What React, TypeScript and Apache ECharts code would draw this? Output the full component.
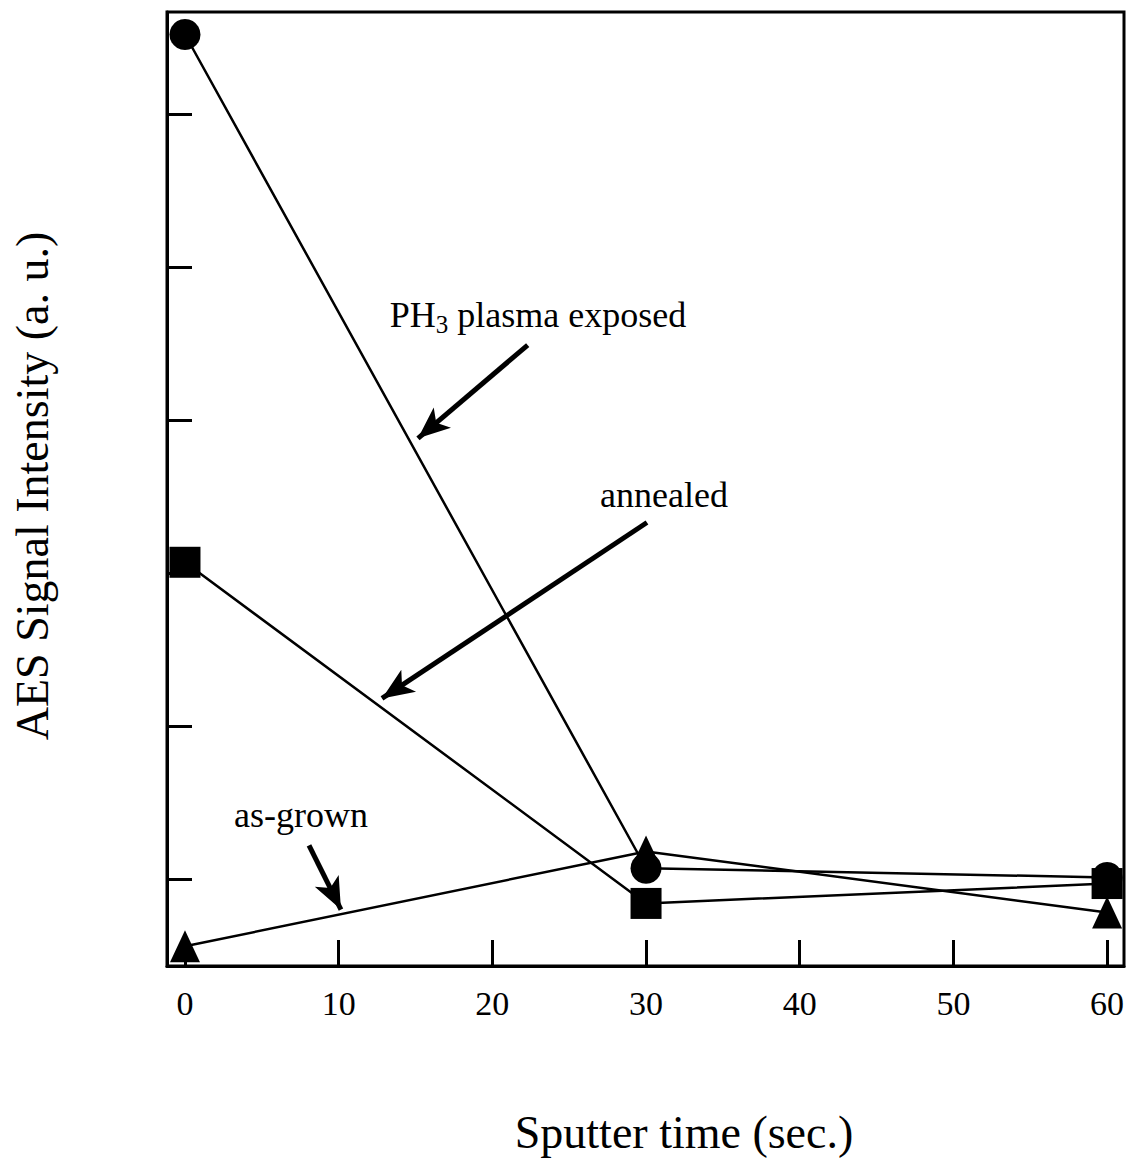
import React, { useEffect, useRef } from "react";
import * as echarts from "echarts";

const times = [0, 30, 60];
const ph3Exposed = [6.52, 1.07, 1.01];
const annealed = [3.07, 0.84, 0.97];
const asGrown = [0.56, 1.18, 0.78];
const xTickValues = [0, 10, 20, 30, 40, 50, 60];
const yTickValues = [1, 2, 3, 4, 5, 6];

const ph3Arrow = [[22.3, 4.49], [15.16, 3.88]];
const annealedArrow = [[30.06, 3.33], [12.82, 2.18]];
const asGrownArrow = [[8.07, 1.22], [10.15, 0.8]];

const FONT = "'Liberation Serif', 'Times New Roman', serif";

export default function App() {
  const ref = useRef<HTMLDivElement>(null);
  useEffect(() => {
    if (!ref.current) return;
    const chart = echarts.init(ref.current, undefined, { renderer: "svg" });
    const toPairs = (ys: number[]) => times.map((t, i) => [t, ys[i]]);
    const arrow = (a: number[][]) => [{ coord: a[0] }, { coord: a[1] }];
    chart.setOption({
      animation: false,
      backgroundColor: "#fff",
      grid: {
        left: 167,
        top: 12,
        right: 7,
        bottom: 204,
        show: true,
        borderColor: "#000",
        borderWidth: 3,
      },
      xAxis: {
        type: "value",
        min: -1.17,
        max: 61.1,
        splitLine: { show: false },
        axisLine: { show: true, onZero: false, lineStyle: { color: "#000", width: 3 } },
        axisTick: {
          show: true,
          inside: true,
          length: 26,
          customValues: xTickValues,
          lineStyle: { color: "#000", width: 3 },
        },
        axisLabel: {
          show: true,
          customValues: xTickValues,
          margin: 20,
          fontFamily: FONT,
          fontSize: 34,
          color: "#000",
        },
      },
      yAxis: {
        type: "value",
        min: 0.431,
        max: 6.667,
        splitLine: { show: false },
        axisLine: { show: true, onZero: false, lineStyle: { color: "#000", width: 3 } },
        axisTick: {
          show: true,
          inside: true,
          length: 25,
          customValues: yTickValues,
          lineStyle: { color: "#000", width: 3 },
        },
        axisLabel: { show: false },
      },
      graphic: [
        {
          type: "text",
          x: 32,
          y: 486,
          rotation: Math.PI / 2,
          style: {
            text: "AES Signal Intensity (a. u.)",
            font: `46px ${FONT}`,
            fill: "#000",
            align: "center",
            verticalAlign: "middle",
          },
        },
        {
          type: "text",
          x: 684,
          y: 1132,
          style: {
            text: "Sputter time (sec.)",
            font: `46px ${FONT}`,
            fill: "#000",
            align: "center",
            verticalAlign: "middle",
          },
        },
        {
          type: "text",
          x: 538,
          y: 315,
          style: {
            text: "PH{sub|3} plasma exposed",
            font: `36px ${FONT}`,
            fontFamily: FONT,
            fontSize: 36,
            fill: "#000",
            align: "center",
            verticalAlign: "middle",
            rich: {
              sub: {
                fontFamily: FONT,
                fontSize: 25,
                fill: "#000",
                verticalAlign: "bottom",
                padding: [0, 0, -4, 0],
              },
            },
          },
        },
        {
          type: "text",
          x: 664,
          y: 495,
          style: {
            text: "annealed",
            font: `36px ${FONT}`,
            fill: "#000",
            align: "center",
            verticalAlign: "middle",
          },
        },
        {
          type: "text",
          x: 301,
          y: 815,
          style: {
            text: "as-grown",
            font: `36px ${FONT}`,
            fill: "#000",
            align: "center",
            verticalAlign: "middle",
          },
        },
      ],
      series: [
        {
          name: "PH3 plasma exposed",
          type: "line",
          data: toPairs(ph3Exposed),
          symbol: "circle",
          symbolSize: 31,
          lineStyle: { color: "#000", width: 2.5 },
          itemStyle: { color: "#000" },
          z: 3,
        },
        {
          name: "annealed",
          type: "line",
          data: toPairs(annealed),
          symbol: "rect",
          symbolSize: 31,
          lineStyle: { color: "#000", width: 2.5 },
          itemStyle: { color: "#000" },
          z: 2,
        },
        {
          name: "as-grown",
          type: "line",
          data: toPairs(asGrown),
          symbol: "triangle",
          symbolSize: [30, 32],
          lineStyle: { color: "#000", width: 2.5 },
          itemStyle: { color: "#000" },
          z: 4,
          markLine: {
            silent: true,
            symbol: ["none", "arrow"],
            symbolSize: [20, 32],
            label: { show: false },
            lineStyle: { color: "#000", width: 5, type: "solid" },
            data: [arrow(ph3Arrow), arrow(annealedArrow), arrow(asGrownArrow)],
          },
        },
      ],
    });
    return () => chart.dispose();
  }, []);
  return (
    <div
      ref={ref}
      style={{ position: "absolute", left: 0, top: 0, width: 1131, height: 1170 }}
    />
  );
}
